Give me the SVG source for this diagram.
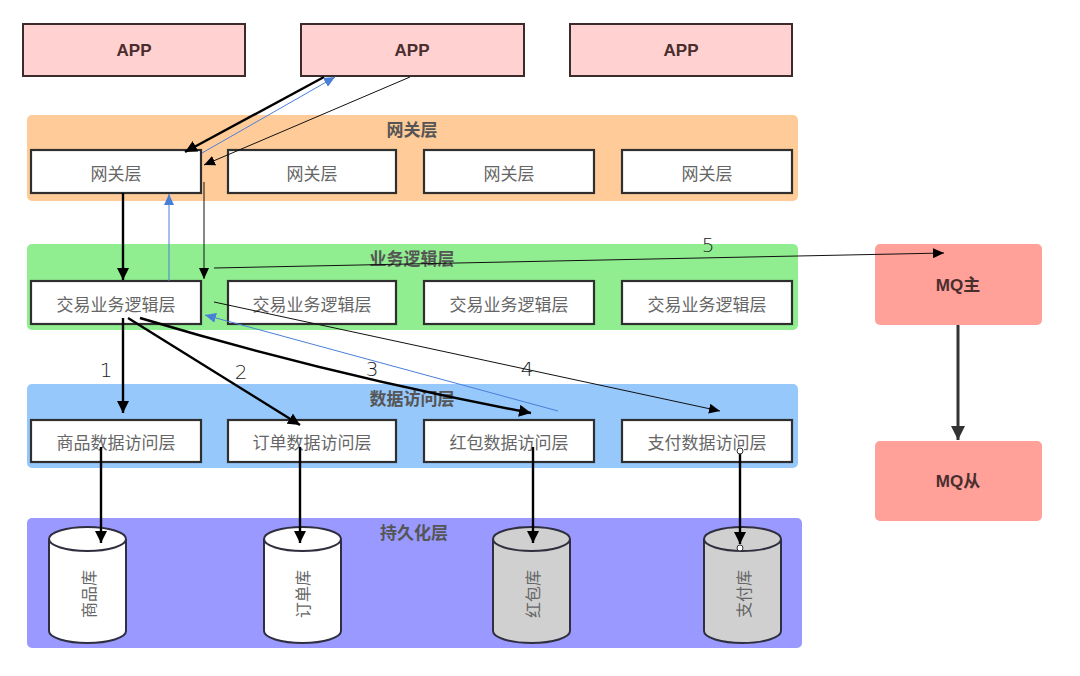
<svg xmlns="http://www.w3.org/2000/svg" width="1080" height="676" viewBox="0 0 1080 676">
<style>
.app{fill:#ffd1d1;stroke:#3d2b2b;stroke-width:2}
.apptxt{font-family:"Liberation Sans","Noto Sans CJK SC",sans-serif;font-weight:bold;font-size:17px;fill:#4a2e2e;text-anchor:middle;dominant-baseline:central}
.box{fill:#fff;stroke:#2f2f2f;stroke-width:2.2}
.boxtxt{font-family:"Noto Sans CJK SC",sans-serif;font-size:17px;fill:#666;text-anchor:middle;dominant-baseline:central}
.cyltxt{font-family:"Noto Sans CJK SC",sans-serif;font-size:16px;fill:#666;text-anchor:middle;dominant-baseline:central}
.title{font-family:"Noto Sans CJK SC",sans-serif;font-weight:bold;font-size:17px;fill:#555;text-anchor:middle;dominant-baseline:central}
.mq{fill:#ffa099;stroke:none}
.mqtxt{font-family:"Liberation Sans","Noto Sans CJK SC",sans-serif;font-weight:bold;font-size:17px;fill:#4a2e2e;text-anchor:middle;dominant-baseline:central}
.cyl{stroke:#2f2f3f;stroke-width:2}
.num{font-family:"DejaVu Sans",sans-serif;font-weight:300;font-size:20px;fill:#222;text-anchor:middle;dominant-baseline:central}
.thick{stroke:#000;stroke-width:2.4;fill:none}
.thin{stroke:#111;stroke-width:1;fill:none}
.blue{stroke:#4a7fd8;stroke-width:1;fill:none}
</style>
<defs>
<marker id="ak" markerUnits="userSpaceOnUse" markerWidth="14" markerHeight="12" refX="12" refY="6" orient="auto"><path d="M0,0 L12,6 L0,12 z" fill="#000"/></marker>
<marker id="an" markerUnits="userSpaceOnUse" markerWidth="12" markerHeight="10" refX="11" refY="5" orient="auto"><path d="M0,0 L11,5 L0,10 z" fill="#000"/></marker>
<marker id="ab" markerUnits="userSpaceOnUse" markerWidth="12" markerHeight="10" refX="11" refY="5" orient="auto"><path d="M0,0 L11,5 L0,10 z" fill="#4a7fd8"/></marker>
<marker id="amq" markerUnits="userSpaceOnUse" markerWidth="16" markerHeight="14" refX="14" refY="7" orient="auto"><path d="M0,0 L14,7 L0,14 z" fill="#333"/></marker>
<marker id="dot" markerUnits="userSpaceOnUse" markerWidth="8" markerHeight="8" refX="4" refY="4"><circle cx="4" cy="4" r="3" fill="#fff" stroke="#333" stroke-width="1"/></marker>
</defs>
<rect width="1080" height="676" fill="#fff"/>

<g id="app1"><rect class="app" x="23" y="24" width="222" height="52"/><text class="apptxt" x="134" y="50">APP</text></g>
<g id="app2"><rect class="app" x="301" y="24" width="223" height="52"/><text class="apptxt" x="412" y="50">APP</text></g>
<g id="app3"><rect class="app" x="570" y="24" width="222" height="52"/><text class="apptxt" x="681" y="50">APP</text></g>

<g id="gateway-layer">
<rect x="27" y="115" width="771" height="86" rx="5" fill="#ffcc99"/>
<text class="title" x="412" y="128">网关层</text>
</g>
<g id="gw1"><rect class="box" x="31" y="150" width="170" height="43"/><text class="boxtxt" x="116" y="172">网关层</text></g>
<g id="gw2"><rect class="box" x="228" y="150" width="168" height="43"/><text class="boxtxt" x="312" y="172">网关层</text></g>
<g id="gw3"><rect class="box" x="424" y="150" width="170" height="43"/><text class="boxtxt" x="509" y="172">网关层</text></g>
<g id="gw4"><rect class="box" x="622" y="150" width="170" height="43"/><text class="boxtxt" x="707" y="172">网关层</text></g>

<g id="biz-layer">
<rect x="27" y="244" width="771" height="86" rx="5" fill="#90ee90"/>
<text class="title" x="412" y="257">业务逻辑层</text>
</g>
<g id="biz1"><rect class="box" x="31" y="281" width="170" height="43"/><text class="boxtxt" x="116" y="303">交易业务逻辑层</text></g>
<g id="biz2"><rect class="box" x="228" y="281" width="168" height="43"/><text class="boxtxt" x="312" y="303">交易业务逻辑层</text></g>
<g id="biz3"><rect class="box" x="424" y="281" width="170" height="43"/><text class="boxtxt" x="509" y="303">交易业务逻辑层</text></g>
<g id="biz4"><rect class="box" x="622" y="281" width="170" height="43"/><text class="boxtxt" x="707" y="303">交易业务逻辑层</text></g>

<g id="data-layer">
<rect x="27" y="384" width="771" height="84" rx="5" fill="#96c8fc"/>
<text class="title" x="412" y="397">数据访问层</text>
</g>
<g id="da1"><rect class="box" x="31" y="420" width="170" height="42"/><text class="boxtxt" x="116" y="441">商品数据访问层</text></g>
<g id="da2"><rect class="box" x="228" y="420" width="168" height="42"/><text class="boxtxt" x="312" y="441">订单数据访问层</text></g>
<g id="da3"><rect class="box" x="424" y="420" width="170" height="42"/><text class="boxtxt" x="509" y="441">红包数据访问层</text></g>
<g id="da4"><rect class="box" x="622" y="420" width="170" height="42"/><text class="boxtxt" x="707" y="441">支付数据访问层</text></g>

<g id="persist-layer">
<rect x="27" y="518" width="775" height="130" rx="5" fill="#9999ff"/>
<text class="title" x="414" y="531">持久化层</text>
</g>
<g id="db1"><path class="cyl" fill="#fff" d="M49,539 A38.5,12 0 0 1 126,539 L126,631 A38.5,12 0 0 1 49,631 Z"/><path class="cyl" fill="none" d="M49,539 A38.5,12 0 0 0 126,539"/><text class="cyltxt" transform="translate(88,594) rotate(-90)" x="0" y="0">商品库</text></g>
<g id="db2"><path class="cyl" fill="#fff" d="M264,539 A38.5,12 0 0 1 341,539 L341,631 A38.5,12 0 0 1 264,631 Z"/><path class="cyl" fill="none" d="M264,539 A38.5,12 0 0 0 341,539"/><text class="cyltxt" transform="translate(302,594) rotate(-90)" x="0" y="0">订单库</text></g>
<g id="db3"><path class="cyl" fill="#d0d0d0" d="M493,539 A38.5,12 0 0 1 570,539 L570,631 A38.5,12 0 0 1 493,631 Z"/><path class="cyl" fill="none" d="M493,539 A38.5,12 0 0 0 570,539"/><text class="cyltxt" transform="translate(532,594) rotate(-90)" x="0" y="0">红包库</text></g>
<g id="db4"><path class="cyl" fill="#d0d0d0" d="M704,539 A38.5,12 0 0 1 781,539 L781,631 A38.5,12 0 0 1 704,631 Z"/><path class="cyl" fill="none" d="M704,539 A38.5,12 0 0 0 781,539"/><text class="cyltxt" transform="translate(743,594) rotate(-90)" x="0" y="0">支付库</text></g>

<g id="mq-master"><rect class="mq" x="875" y="244" width="167" height="81" rx="5"/><text class="mqtxt" x="958" y="285">MQ主</text></g>
<g id="mq-slave"><rect class="mq" x="875" y="441" width="167" height="80" rx="5"/><text class="mqtxt" x="958" y="481">MQ从</text></g>

<g id="connectors">
<line class="thick" x1="324" y1="77" x2="185" y2="152" marker-end="url(#ak)"/>
<line class="blue" x1="202" y1="153" x2="335" y2="77" marker-end="url(#ab)"/>
<line class="thin" x1="410" y1="77" x2="204" y2="165" marker-end="url(#an)"/>
<line class="thick" x1="123" y1="193" x2="123" y2="280" marker-end="url(#ak)"/>
<line class="blue" x1="169" y1="281" x2="169" y2="194" marker-end="url(#ab)"/>
<line class="thin" x1="204" y1="182" x2="204" y2="279" marker-end="url(#an)"/>
<line class="thin" x1="214" y1="268" x2="944" y2="253" marker-end="url(#an)"/>
<line class="thin" x1="214" y1="302" x2="720" y2="411" marker-end="url(#an)"/>
<line class="blue" x1="558" y1="411" x2="205" y2="315" marker-end="url(#ab)"/>
<path class="thick" d="M140,318 Q330,375 531,413" marker-end="url(#ak)"/>
<line class="thick" x1="128" y1="318" x2="300" y2="425" marker-end="url(#ak)"/>
<line class="thick" x1="123" y1="318" x2="123" y2="413" marker-end="url(#ak)"/>
<line class="thick" x1="101" y1="447" x2="101" y2="543" marker-end="url(#ak)"/>
<line class="thick" x1="300" y1="447" x2="300" y2="543" marker-end="url(#ak)"/>
<line class="thick" x1="533" y1="447" x2="533" y2="543" marker-end="url(#ak)"/>
<line class="thick" x1="740" y1="451" x2="740" y2="544" marker-start="url(#dot)" marker-end="url(#ak)"/>
<circle cx="740" cy="548" r="3" fill="#fff" stroke="#333" stroke-width="1"/>
<line stroke="#333" stroke-width="3" x1="958" y1="325" x2="958" y2="440" marker-end="url(#amq)"/>
<text class="num" x="106" y="370">1</text>
<text class="num" x="241" y="372">2</text>
<text class="num" x="372" y="369">3</text>
<text class="num" x="527" y="369">4</text>
<text class="num" x="708" y="245">5</text>
</g>
</svg>
